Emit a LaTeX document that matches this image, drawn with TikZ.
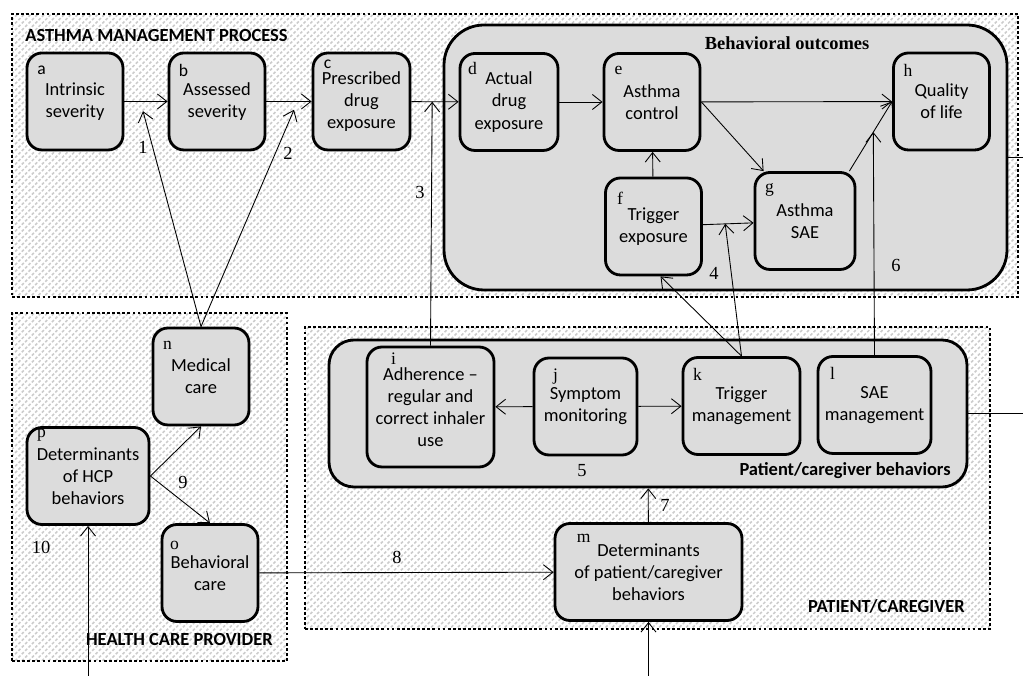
\documentclass[tikz,border=0pt]{standalone}
\usepackage{fontspec}
\setmainfont{Liberation Serif}
\setsansfont{Carlito}
\usepackage{tikz}
\usepackage{xcolor}
\usetikzlibrary{arrows.meta,patterns.meta}

\definecolor{boxgray}{RGB}{220,220,220}

\begin{document}
\begin{tikzpicture}[
        box/.style={draw=black, fill=boxgray, line width=1.6pt, rounded corners=3mm, minimum width=1.92cm, minimum height=1.94cm, inner sep=1pt, align=center, font=\sffamily\fontsize{10.5}{12.6}\selectfont},
        tag/.style={anchor=center, xshift=0.32cm, yshift=-0.37cm, inner sep=0pt, font=\rmfamily\fontsize{10}{12}\selectfont},
        sftag/.style={tag, font=\sffamily\fontsize{10}{12}\selectfont},
        group/.style={draw=black, line width=1.6pt, dash pattern=on 1.6pt off 1.3pt, pattern={Lines[angle=45,distance=2.7pt,line width=0.9pt]}, pattern color=black!20, inner sep=0pt},
        panel/.style={draw=black, fill=boxgray, line width=1.6pt, inner sep=0pt},
        arr/.style={-{Straight Barb[length=1.9mm,width=3mm]}, line width=0.5pt},
        numlabel/.style={font=\rmfamily\fontsize{10.5}{12}\selectfont, inner sep=0pt},
        grouptitle/.style={font=\sffamily\bfseries\fontsize{10.5}{12}\selectfont, inner sep=0pt}
        ]
            \useasboundingbox (0,0) rectangle (20.46,13.52);

            % the three areas
            \node[group, minimum width=20.12cm, minimum height=5.66cm] (amp) at (10.30,10.41) {};
            \node[group, minimum width=5.50cm, minimum height=6.96cm] (hcp) at (2.99,3.78) {};
            \node[group, minimum width=13.70cm, minimum height=6.04cm] (pc) at (12.95,3.96) {};
            \node[grouptitle, anchor=west] (ampT) at (0.50,12.80) {ASTHMA MANAGEMENT PROCESS};
            \node[grouptitle, anchor=east] (hcpT) at (5.46,0.72) {HEALTH CARE PROVIDER};
            \node[grouptitle, anchor=east] (pcT) at (19.30,1.40) {PATIENT/CAREGIVER};

            \node[panel, rounded corners=8mm, minimum width=11.26cm, minimum height=5.30cm] (bo) at (14.51,10.37) {};
            \node[panel, rounded corners=5mm, minimum width=12.76cm, minimum height=2.94cm] (pcb) at (12.96,5.25) {};
            \node[font=\rmfamily\bfseries\fontsize{10.5}{12}\selectfont] (boT) at (15.74,12.66) {Behavioral outcomes};
            \node[grouptitle, anchor=east] (pcbT) at (19.02,4.10) {Patient/caregiver behaviors};

            % asthma management process
            \node[box, label={[sftag]north west:a}] (a) at (1.50,11.49) {Intrinsic\\severity};
            \node[box, label={[sftag]north west:b}] (b) at (4.34,11.49) {Assessed\\severity};
            \node[box, minimum width=1.94cm, label={[sftag, yshift=0.12cm]north west:c}] (c) at (7.23,11.49) {Prescribed\\drug\\exposure};
            \node[box, minimum width=1.96cm, label={[tag, xshift=-0.04cm, yshift=0.05cm]north west:d}] (d) at (10.18,11.48) {Actual\\drug\\exposure};
            \node[box, label={[tag]north west:e}] (e) at (13.04,11.48) {Asthma\\control};
            \node[box, label={[tag, yshift=-0.07cm]north west:f}] (f) at (13.07,8.99) {Trigger\\exposure};
            \node[box, minimum width=2.0cm, label={[tag]north west:g}] (g) at (16.10,9.10) {Asthma\\SAE};
            \node[box, label={[tag]north west:h}] (h) at (18.83,11.49) {Quality\\of life};

            % patient/caregiver
            \node[box, minimum width=2.54cm, minimum height=2.40cm, label={[tag, xshift=0.24cm, yshift=0.11cm]north west:i}] (i) at (8.61,5.38) {Adherence –\\regular and\\correct inhaler\\use};
            \node[box, minimum width=2.06cm, label={[tag, xshift=0.14cm, yshift=-0.03cm]north west:j}] (j) at (11.71,5.39) {Symptom\\monitoring};
            \node[box, minimum width=2.34cm, label={[tag]north west:k}] (k) at (14.83,5.40) {Trigger\\management};
            \node[box, minimum width=2.26cm, label={[tag]north west:l}] (l) at (17.49,5.42) {SAE\\management};
            \node[box, minimum width=3.74cm, label={[tag, xshift=0.28cm, yshift=0.05cm]north west:m}] (m) at (12.97,2.08) {Determinants\\of patient/caregiver\\behaviors};

            % health care provider
            \node[box, label={[tag]north west:n}] (n) at (4.02,5.99) {Medical\\care};
            \node[box, label={[tag, xshift=-0.04cm, yshift=-0.07cm]north west:o}] (o) at (4.20,2.06) {Behavioral\\care};
            \node[box, minimum width=2.44cm, label={[tag, yshift=0.19cm]north west:p}] (p) at (1.76,4.00) {Determinants\\of HCP\\behaviors};

            \coordinate (inP) at (1.76,0);
            \coordinate (inM) at (12.97,0);
            \coordinate (outBO) at (20.46,10.37);
            \coordinate (outPCB) at (20.46,5.25);

            \draw[arr] (a) -- coordinate[pos=0.37] (ab) (b);
            \draw[arr] (b) -- coordinate[pos=0.69] (bc) (c);
            \draw[arr] (c) -- coordinate[pos=0.44] (cd) (d);
            \draw[arr] (d) -- (e);
            \draw[arr] (e) -- (h);
            \draw[arr] (e.east) -- ([xshift=0.2cm]g.north west);
            \draw[arr] ([xshift=-0.14cm]g.north east) -- coordinate[pos=0.56] (gh) (h.west);
            \draw[arr] (f) -- (e);
            \draw[arr] (f) -- coordinate[pos=0.44] (fg) (g);
            \draw[arr] (j) -- (i);
            \draw[arr] (j) -- (k);

            \draw[arr, shorten >=0.2cm] (n.north) -- (ab);
            \draw[arr, shorten >=0.18cm] (n.north) -- (bc);
            \draw[arr] (i.north) -- (cd);
            \draw[arr] (k.north) -- (fg);
            \draw[arr] (k.north) -- ([xshift=0.14cm]f.south);
            \draw[arr] (l.north) -- (gh);
            \draw[arr] (m) -- (pcb);
            \draw[arr] (o) -- (m);
            \draw[arr] (p.east) -- (n.south);
            \draw[arr] (p.east) -- (o.north);
            \draw[arr] (inP) -- (p);
            \draw[arr] (inM) -- (m);
            \draw[line width=0.5pt] (bo.east) -- (outBO);
            \draw[line width=0.5pt] (pcb.east) -- (outPCB);

            \node[numlabel] (n1) at (2.86,10.58) {1};
            \node[numlabel] (n2) at (5.76,10.46) {2};
            \node[numlabel] (n3) at (8.40,9.68) {3};
            \node[numlabel] (n4) at (14.28,8.06) {4};
            \node[numlabel] (n5) at (11.64,4.10) {5};
            \node[numlabel] (n6) at (17.92,8.22) {6};
            \node[numlabel] (n7) at (13.30,3.42) {7};
            \node[numlabel] (n8) at (7.94,2.38) {8};
            \node[numlabel] (n9) at (3.66,3.88) {9};
            \node[numlabel] (n10) at (0.82,2.58) {10};

        \end{tikzpicture}
\end{document}
